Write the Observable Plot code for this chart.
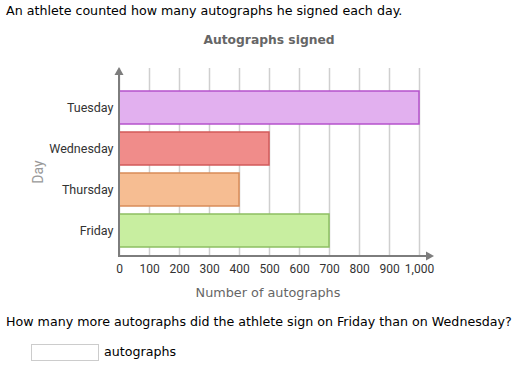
<!DOCTYPE html>
<html><head><meta charset="utf-8">
<script src="https://cdn.jsdelivr.net/npm/d3@7"></script>
<script src="https://cdn.jsdelivr.net/npm/@observablehq/plot@0.6"></script>
<style>
html,body{margin:0;padding:0;background:#fff;}
body{width:520px;height:367px;position:relative;overflow:hidden;font-family:"DejaVu Sans",Verdana,sans-serif;}
.t{position:absolute;white-space:nowrap;line-height:1;}
#chart{position:absolute;left:0;top:0;}
#chart svg{font-family:Roboto,sans-serif;}
</style></head><body>
<div id="chart"></div>
<div class="t" id="intro" style="left:6px;top:5px;font-size:12.65px;color:#000;">An athlete counted how many autographs he signed each day.</div>
<div class="t" id="title" style="left:0;width:538px;text-align:center;top:34px;font-size:12.3px;font-weight:bold;color:#666;">Autographs signed</div>
<div class="t" id="xlabel" style="left:0;width:536px;text-align:center;top:287px;font-size:12.8px;color:#666;">Number of autographs</div>
<div class="t" id="ylabel" style="left:38px;top:172px;font-family:Roboto,sans-serif;font-size:14px;color:#999;transform:translate(-50%,-50%) rotate(-90deg);">Day</div>
<div class="t" id="question" style="left:6px;top:316px;font-size:12.65px;color:#000;">How many more autographs did the athlete sign on Friday than on Wednesday?</div>
<div style="position:absolute;left:31px;top:344px;width:66px;height:15px;border:1px solid #ccc;background:#fff;"></div>
<div class="t" id="unit" style="left:104px;top:346px;font-size:12.65px;color:#000;">autographs</div>
<script>
const days = ["Tuesday", "Wednesday", "Thursday", "Friday"];
const counts = [1000, 500, 400, 700];
const fills = ["#e2b0ef", "#f08c8a", "#f6bd92", "#c8eea0"];
const strokes = ["#b552cc", "#d25a5a", "#d98c58", "#8dbf62"];
const xTicks = [0, 100, 200, 300, 400, 500, 600, 700, 800, 900, 1000];

const data = days.map((d, i) => ({day: d, count: counts[i], fill: fills[i], stroke: strokes[i]}));

const axes = (index, scales, values, dimensions) => {
  const {x} = scales;
  const {marginTop, marginBottom, height} = dimensions;
  const x0 = x(0), x1 = x(xTicks[xTicks.length - 1]), yb = height - marginBottom;
  const g = d3.create("svg:g");
  const c = "#7d7d7d";
  g.append("line").attr("x1", x0).attr("x2", x0).attr("y1", yb + 1).attr("y2", marginTop + 5)
    .attr("stroke", c).attr("stroke-width", 2);
  g.append("path").attr("d", `M${x0},${marginTop - 1}L${x0 + 4.5},${marginTop + 7}L${x0 - 4.5},${marginTop + 7}Z`).attr("fill", c);
  g.append("line").attr("x1", x0 - 1).attr("x2", x1 + 8).attr("y1", yb).attr("y2", yb)
    .attr("stroke", c).attr("stroke-width", 2);
  g.append("path").attr("d", `M${x1 + 15},${yb}L${x1 + 7},${yb - 4.5}L${x1 + 7},${yb + 4.5}Z`).attr("fill", c);
  return g.node();
};

const chart = Plot.plot({
  width: 520,
  height: 367,
  marginLeft: 119,
  marginRight: 101,
  marginTop: 68,
  marginBottom: 111,
  x: {domain: [0, 1000]},
  y: {domain: days, range: [84.8, 252], paddingInner: 0.2, paddingOuter: 0.1},
  color: {type: "identity"},
  marks: [
    Plot.gridX(xTicks, {stroke: "#cfcfcf", strokeOpacity: 1, strokeWidth: 1.5}),
    Plot.barX(data, {y: "day", x: "count", fill: "fill", stroke: "stroke", strokeWidth: 1.5}),
    Plot.axisX(xTicks, {tickSize: 0, tickPadding: 8, tickFormat: d3.format(","), fontSize: 12, fill: "#333", label: null}),
    Plot.axisY({tickSize: 0, tickPadding: 6, fontSize: 12.5, fill: "#333", label: null}),
    axes
  ]
});
document.getElementById("chart").appendChild(chart);
</script>
</body></html>
